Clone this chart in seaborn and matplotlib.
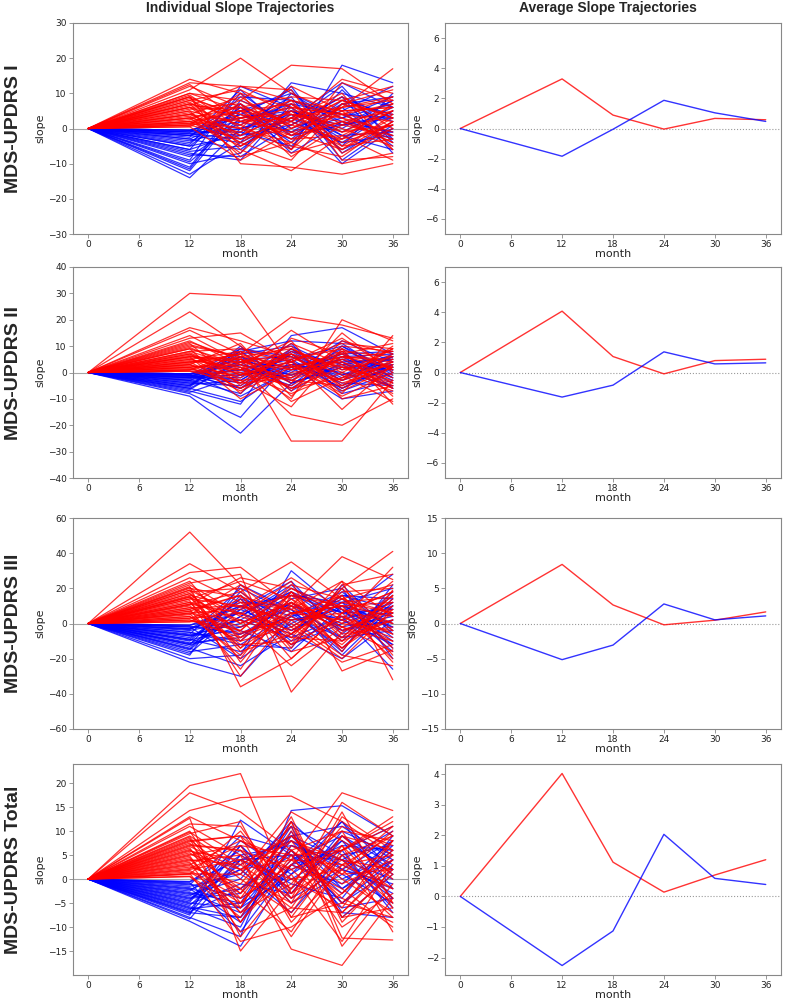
import pandas as pd
import matplotlib
matplotlib.use("Agg")
import matplotlib.pyplot as plt
import seaborn as sns

# ---------------------------------------------------------
# Data
# ---------------------------------------------------------
months = [0, 12, 18, 24, 30, 36]
scales = ["MDS-UPDRS I", "MDS-UPDRS II", "MDS-UPDRS III", "MDS-UPDRS Total"]

# individual slope trajectories, values at months 12, 18, 24, 30, 36 (month 0 is 0)
red_I = [
    [14, 10, 6, 4, 2], [13, 12, 8, 5, 6], [12, 6, 9, 8, 3], [11, 20, 10, 4, 9],
    [10, 8, 18, 17, 7], [10, 5, 2, 14, 10], [9, 3, -2, 6, 17], [9, -10, -11, -13, -10],
    [8, 11, 4, 2, -3], [8, 2, 6, -4, 1], [7, -6, -12, -2, 5], [7, 4, 1, 8, 12],
    [6, -3, 3, 10, -6], [6, 7, -5, -8, 2], [5, 1, 8, 3, -4], [5, -8, -4, -10, -7],
    [4, 9, 0, 6, 8], [4, -2, 5, -6, 4], [3, 6, -8, 1, -2], [3, 0, 12, 5, 6],
    [2, -5, 2, 9, 0], [2, 5, -3, -2, -9], [1.5, -1, 7, -5, 3], [1, 10, -6, 13, 8],
    [1, 3, 4, 0, -5], [0.5, -9, -1, 4, 7], [9.5, 0, -7, -3, 1], [6.5, 12, 11, -9, -8],
    [3.5, -4, -9, 7, 11], [12.5, 2, 3, -1, 5],
    [8.5, 4, -3, 2, 5], [7.5, -2, 5, 3, -1], [6, 1, -6, 7, 4], [5.5, 6, 2, -5, -3],
    [4.5, -4, 4, 1, 6], [4, 2, -1, -6, 2], [3, -7, 6, 4, -2], [2.5, 8, 1, -3, 7],
    [2, 0, -4, 5, -6], [1.5, 5, 7, -1, 1], [1, -3, 0, 8, 3], [0.5, 7, -2, 2, -4],
    [7, 3, 8, -7, 0], [9, -5, 3, 6, 9],
]
blue_I = [
    [-14, 0, 4, 1, 3], [-13, -4, 13, 10, 6], [-12, 5, -6, 18, 13], [-11, 8, 2, -4, -2],
    [-10, -7, 10, 3, 9], [-9, 12, 6, -10, 0], [-8, 2, -3, 8, 4], [-7, -9, 7, -2, -6],
    [-6, 10, 0, 5, 12], [-5, -2, 12, -7, 2], [-4, 6, -4, 11, -3], [-3, -6, 5, 0, 8],
    [-2.5, 11, -2, 6, -5], [-2, 1, 9, -9, 1], [-1.5, -3, 3, 13, 6], [-1, 7, -7, 2, -1],
    [-0.5, 4, 11, -5, 10], [-7.5, -8, 1, 9, -7], [-4.5, 9, 8, 4, 3], [-1, -1, -5, 7, 9],
    [-0.5, 3, 6, -3, 5], [-3.5, 0, 2, 12, -4], [-11.5, 7, -1, 3, 7], [-6.5, -5, 4, -6, 0],
    [-2, 5, 10, 1, 4],
    [-9.5, 3, 5, -1, 6], [-6, -1, 8, 2, -3], [-3, 4, -1, 7, 2], [-2, -4, 3, -4, 5],
    [-1, 2, 7, 4, -2], [-0.5, -2, 1, 9, 3], [-5, 6, -2, 1, 8], [-1.5, 0, 5, -2, -1],
]

red_II = [
    [30, 29, 2, 6, 4], [23, 10, -3, 5, 8], [17, 12, 6, -4, 2], [16, 7, 21, 18, 13],
    [13, 15, 4, 11, 9], [12, 3, -10, 20, 12], [11, -5, 8, 2, -6], [10, 6, -26, -26, -3],
    [9, -8, 13, 7, 11], [8, 2, -16, -20, -10], [8, 9, 5, -14, 3], [7, -3, -13, 9, -12],
    [6, 4, 10, -6, 5], [6, -10, 0, 3, -8], [5, 8, -7, 12, 7], [5, 1, 16, 4, -2],
    [4, -6, 3, -8, 14], [4, 5, -4, 15, 0], [3, -2, 7, -1, -11], [3, 11, -9, 8, 6],
    [2, -7, 2, -3, 10], [2, 3, 12, -10, -5], [1, 0, -5, 6, 2], [1, 6, 9, 0, -7],
    [0.5, -4, -2, 10, 8], [9.5, 1, 7, -5, 4], [11.5, 5, -6, 2, -4], [6.5, -1, 4, 13, 1],
    [3.5, 7, -11, -2, 9], [14, 4, 1, 8, -9],
    [9, 3, -2, 5, -1], [7.5, -1, 6, -3, 4], [6, 5, 2, 7, -4], [5.5, -4, 9, 1, 6],
    [4.5, 2, -6, -2, 3], [4, 7, 1, 4, -6], [3, -6, 5, 9, 1], [2.5, 1, -3, -5, 7],
    [2, 4, 7, 2, -3], [1.5, -3, -1, 6, 5], [1, 8, 4, -7, 2], [0.5, -1, 11, 3, -5],
    [7, 0, -8, 0, 9], [10.5, 6, 3, -9, 0],
]
blue_II = [
    [-9, -23, -4, 2, 1], [-8, -17, 5, -6, 3], [-7, -12, 14, 17, 7], [-6, -11, 2, -10, -7],
    [-5, 10, -7, 4, 5], [-5, 8, 12, 11, -1], [-4, -5, 7, -2, 6], [-3, 3, -3, 8, -6],
    [-3, -8, 9, -5, 2], [-2, 6, 0, 12, 4], [-2, -2, 11, -8, -3], [-1.5, 4, -6, 6, 7],
    [-1, -6, 3, 0, -5], [-1, 9, 6, -3, 3], [-0.5, 1, -2, 9, 0], [-0.5, -3, 8, 3, 6],
    [-6.5, 5, -1, 7, -2], [-4, 0, 4, -6, 2], [-2.5, 7, 10, 1, 5], [-1, -9, 1, 5, -4],
    [-3.5, 2, -5, 10, 1], [-0.5, 5, 6, -1, 7], [-7.5, -1, 3, 4, -6], [-2, 8, -4, 2, 3],
    [-1, -4, 7, -7, 0],
    [-6, 4, 2, 6, -3], [-4.5, -3, 9, -1, 4], [-3, 6, -4, 3, 1], [-2, 1, 5, 10, -2],
    [-1, -6, 8, -3, 6], [-0.5, 3, -1, 5, 2], [-5.5, 9, 4, -4, -5], [-1.5, -1, 2, 7, 8],
]

red_III = [
    [52, 22, 6, 10, 4], [34, 18, 35, 14, 22], [29, 32, 10, 38, 25], [26, 12, -8, 20, 41],
    [24, -10, 18, 2, 32], [23, 28, -39, -5, 10], [22, 5, 24, -27, -15], [21, -36, -20, 6, 18],
    [20, 15, 8, 24, -32], [19, -22, 12, -14, 6], [18, 20, -14, 22, 28], [17, -5, 2, -18, -24],
    [16, 9, 26, 8, -6], [15, -16, -6, 12, 15], [14, 24, 14, -10, 2], [13, -30, 5, 16, -18],
    [12, 2, -24, -2, 12], [11, 26, 20, 4, -10], [10, -12, -10, 18, 20], [9, 10, 0, -20, 8],
    [8, -26, 16, 10, -22], [7, 16, -16, -8, 16], [6, -4, 22, 14, 0], [5, 22, -2, -22, -12],
    [4, -18, 10, 0, 24], [3, 6, -12, 20, -4], [2, -8, 4, -12, 14], [1, 14, -20, 6, -20],
    [20.5, 0, 12, -4, 8], [15.5, -14, 6, 2, -8], [10.5, 18, -6, 24, 4], [5.5, -20, 18, -16, 19],
    [19, 4, -6, 12, 6], [17, -8, 14, -2, -10], [14, 10, 2, 6, 18], [12, -14, 18, -8, 2],
    [11, 6, -4, 16, -14], [9, -2, 10, -14, 10], [8, 16, -12, 4, -6], [7, -6, 6, 10, 12],
    [6, 8, 16, -6, -2], [4, -10, -2, 14, 6], [3, 12, 8, -2, -16], [2, -4, 20, 8, 0],
    [1, 2, -8, -10, 16], [15, 0, 12, 0, -4],
]
blue_III = [
    [-22, -30, 2, 4, -26], [-20, -18, 30, 6, 28], [-18, 22, 8, -18, 10], [-16, -12, -14, 22, -6],
    [-15, 10, 16, 12, 20], [-14, -24, -6, -20, 2], [-13, 4, 20, 8, -16], [-12, 18, -2, 16, 8],
    [-11, -8, 12, -10, 14], [-10, 14, -10, 2, -12], [-9, -16, 4, 18, -4], [-8, 8, 24, -6, 16],
    [-7, -4, -16, 10, 0], [-6, 20, 6, -14, 12], [-5, -10, 14, 20, -20], [-4, 2, -8, 4, 6],
    [-3, 12, 10, -8, 18], [-2, -20, 0, 14, -8], [-1, 6, 18, -2, 4], [-14.5, 16, -4, 12, -14],
    [-9.5, -2, 8, -16, 22], [-6.5, 0, 16, 6, -2], [-3.5, 10, -12, 0, 10], [-1.5, -6, 4, 10, -10],
    [-11.5, 4, 22, -4, 2],
    [-17, 8, -4, 10, 4], [-12, -6, 10, 2, 12], [-9, 14, 4, -8, -4], [-7, 2, 18, 6, 8],
    [-5, -12, 6, 12, -2], [-3, 6, -6, 16, 14], [-2, -2, 12, -4, 6], [-1, 10, 2, 8, -12],
]

red_T = [
    [19.5, 22, -3, 4, 2], [18, 14, 6, 10, 8], [14.3, 17, 17.3, 12, 5], [13, 8, 4, 18, 14.3],
    [12.7, -15, -2, 16, 9], [11, 5, -14.6, -18, -4], [10, -6, 12, -12.3, -12.7], [9.5, 12, -8, 6, 13],
    [9, 2, 8, -5, -8], [8.5, -12, 1, -13, 3], [8, 9, -9, 2, 11], [7.5, -4, 10, -8, -6],
    [7, 6, -5, 13, 6], [6.5, -9, 3, -2, -10], [6, 1, 14, 8, 1], [5.5, -2, -11, 5, 9],
    [5, 7, 5, -10, -3], [4.5, -7, -1, 11, 7], [4, 3, 9, 0, -7], [3.5, -11, -6, -7, 4],
    [3, 8, 2, 6, 12], [2.5, -1, 11, -14, -1], [2, 4, -12, 3, 5], [1.5, -5, 6, -4, -9],
    [1, 10, -3, 9, 0], [0.5, -8, 7, 1, 10], [8.2, 0, -7, 7, -11], [5.8, 4, 0, -6, 8],
    [3.2, -3, 13, -9, 2], [11.5, 11, -4, 14, -5], [1.2, -13, -10, -3, 6], [6.8, 2, 4, 3, -2],
    [9.8, 3, -4, 5, -2], [8.8, -5, 6, -1, 4], [7.2, 6, 2, -7, 3], [6.2, -3, 8, 4, -5],
    [5.2, 2, -6, 9, 6], [4.2, -7, 4, -3, 8], [3.8, 5, -2, 7, -4], [2.8, -2, 9, 1, 2],
    [2.2, 7, -8, -5, 5], [1.8, -4, 3, 10, -6], [1.1, 1, -5, 3, 9], [0.6, -6, 12, -8, 1],
    [7.8, 9, 0, 2, -8], [4.8, -9, 5, 6, 11],
]
blue_T = [
    [-8.8, -14, 3, 6, 11], [-8, -12, 14.3, 15.3, 9], [-7.5, 12.3, 5, -6, -4], [-7, -8, 9, 11, 4],
    [-6.5, 7, -4, 2, 8], [-6, -10, 10, -7, -8], [-5.5, 4, -2, 8, 2], [-5, -6, 6, -3, 7],
    [-4.5, 8, 1, 12, -2], [-4, -3, 8, 0, 5], [-3.5, 2, -7, 5, -6], [-3, -7, 4, 9, 3],
    [-2.5, 5, -1, -4, 9], [-2, -9, 7, 3, -3], [-1.5, 1, 11, -8, 1], [-1, -4, 2, 7, 6],
    [-0.5, 6, -5, 1, -5], [-6.8, -2, 5, 4, 0], [-4.2, 3, 9, -2, 4], [-2.8, -5, 0, 6, -7],
    [-1.2, 9, 6, -5, 2], [-5.2, -1, -3, 10, 5], [-3.2, 0, 12, 2, -1], [-0.8, -11, 3, -1, 8],
    [-7.2, 5, 7, 4, -4],
    [-8.3, 4, 8, 2, -2], [-6.2, -5, 11, 5, 7], [-4.8, 7, -3, 9, 1], [-3.8, -2, 6, -5, 4],
    [-2.2, 2, 9, 4, 10], [-1.8, -6, 1, 8, -4], [-0.6, 4, 5, -2, 6], [-5.8, -8, 3, 12, 2],
]

# average slope trajectories (months 0..36)
avg_red_I = [0, 3.29, 0.89, -0.04, 0.67, 0.58]
avg_blue_I = [0, -1.84, -0.05, 1.87, 1.04, 0.47]
avg_red_II = [0, 4.07, 1.06, -0.09, 0.79, 0.88]
avg_blue_II = [0, -1.63, -0.84, 1.37, 0.57, 0.64]
avg_red_III = [0, 8.4, 2.64, -0.19, 0.47, 1.65]
avg_blue_III = [0, -5.14, -3.07, 2.78, 0.52, 1.08]
avg_red_T = [0, 4.02, 1.12, 0.14, 0.7, 1.2]
avg_blue_T = [0, -2.26, -1.13, 2.03, 0.59, 0.39]

indiv = [(red_I, blue_I), (red_II, blue_II), (red_III, blue_III), (red_T, blue_T)]
avgs = [(avg_red_I, avg_blue_I), (avg_red_II, avg_blue_II),
        (avg_red_III, avg_blue_III), (avg_red_T, avg_blue_T)]

left_ylim = [(-30, 30), (-40, 40), (-60, 60), (-20, 24)]
left_ticks = [range(-30, 31, 10), range(-40, 41, 10), range(-60, 61, 20), range(-15, 21, 5)]
right_ylim = [(-7, 7), (-7, 7), (-15, 15), (-2.57, 4.33)]
right_ticks = [range(-6, 7, 2), range(-6, 7, 2), range(-15, 16, 5), range(-2, 5, 1)]

palette = {"up": "#ff0000", "down": "#0000ff"}


def traj_df(red, blue):
    rows = []
    for grp, trajs in (("up", red), ("down", blue)):
        for i, t in enumerate(trajs):
            for m, v in zip(months, [0] + list(t)):
                rows.append((f"{grp}{i}", grp, m, v))
    return pd.DataFrame(rows, columns=["subject", "group", "month", "slope"])


def avg_df(red, blue):
    rows = [("up", m, v) for m, v in zip(months, red)]
    rows += [("down", m, v) for m, v in zip(months, blue)]
    return pd.DataFrame(rows, columns=["group", "month", "slope"])


# ---------------------------------------------------------
# Plot
# ---------------------------------------------------------
sns.set_style("ticks")
plt.rcParams["font.family"] = ["DejaVu Sans"]
plt.rcParams["axes.edgecolor"] = "#888888"
plt.rcParams["xtick.color"] = "#888888"
plt.rcParams["ytick.color"] = "#888888"
plt.rcParams["xtick.labelcolor"] = "#222222"
plt.rcParams["ytick.labelcolor"] = "#222222"

W, H = 789, 999
fig = plt.figure(figsize=(W / 100, H / 100), dpi=100)

row_tops = [23, 267, 518, 764]
ax_h = 211
left_x = (73, 408)
right_x = (445, 781)

for r in range(4):
    bottom = 1 - (row_tops[r] + ax_h) / H
    axl = fig.add_axes([left_x[0] / W, bottom, (left_x[1] - left_x[0]) / W, ax_h / H])
    axr = fig.add_axes([right_x[0] / W, bottom, (right_x[1] - right_x[0]) / W, ax_h / H])

    df = traj_df(*indiv[r])
    axl.axhline(0, color="gray", lw=0.8, alpha=0.7, zorder=0)
    sns.lineplot(data=df, x="month", y="slope", hue="group", units="subject",
                 hue_order=["down", "up"], estimator=None, palette=palette,
                 lw=0.9, alpha=0.8, legend=False, sort=False, ax=axl)
    axl.set_ylim(*left_ylim[r])
    axl.set_yticks(list(left_ticks[r]))

    da = avg_df(*avgs[r])
    axr.axhline(0, color="gray", lw=0.8, ls=":", alpha=0.8, zorder=0)
    sns.lineplot(data=da, x="month", y="slope", hue="group", estimator=None,
                 palette=palette, lw=1.0, alpha=0.8, legend=False, sort=False, ax=axr)
    axr.set_ylim(*right_ylim[r])
    axr.set_yticks(list(right_ticks[r]))

    for ax in (axl, axr):
        ax.set_xlim(-1.8, 37.8)
        ax.set_xticks(range(0, 37, 6))
        ax.tick_params(labelsize=6.5, length=3, width=0.6, pad=1.5)
        ax.set_xlabel("month", fontsize=8, labelpad=0)
        ax.set_ylabel("slope", fontsize=8, labelpad=2)
        for sp in ax.spines.values():
            sp.set_linewidth(0.8)

    yc = 1 - (row_tops[r] + ax_h / 2) / H
    fig.text(0.017, yc, scales[r], rotation=90, ha="center", va="center",
             fontsize=14, fontweight="bold", family="Liberation Sans")

fig.text((left_x[0] + left_x[1]) / 2 / W, 1 - 8 / H, "Individual Slope Trajectories",
         ha="center", va="center", fontsize=10, fontweight="bold", family="Liberation Sans")
fig.text((right_x[0] + right_x[1]) / 2 / W - 0.006, 1 - 8 / H, "Average Slope Trajectories",
         ha="center", va="center", fontsize=10, fontweight="bold", family="Liberation Sans")

plt.savefig("out.png", dpi=100)
plt.close()
